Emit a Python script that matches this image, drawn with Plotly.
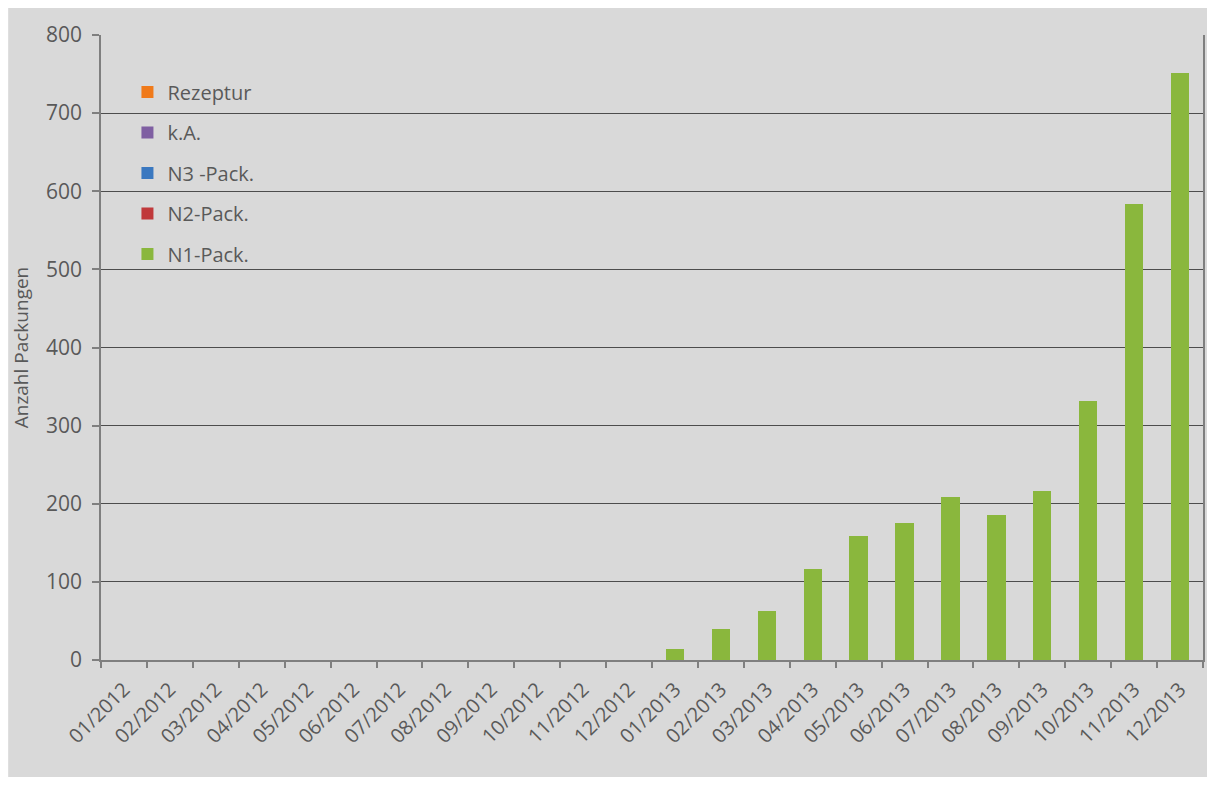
import plotly.graph_objects as go

months = ["01/2012", "02/2012", "03/2012", "04/2012", "05/2012", "06/2012",
          "07/2012", "08/2012", "09/2012", "10/2012", "11/2012", "12/2012",
          "01/2013", "02/2013", "03/2013", "04/2013", "05/2013", "06/2013",
          "07/2013", "08/2013", "09/2013", "10/2013", "11/2013", "12/2013"]

n1_pack = [0, 0, 0, 0, 0, 0, 0, 0, 0, 0, 0, 0,
           14, 40, 63, 117, 159, 175, 209, 185, 216, 332, 584, 752]
n2_pack = [0] * 24
n3_pack = [0] * 24
k_a = [0] * 24
rezeptur = [0] * 24

# legend order (top to bottom); stacking of the non-zero series is unaffected
series = [
    ("Rezeptur", rezeptur, "#f07a1a"),
    ("k.A.", k_a, "#7f5fa2"),
    ("N3 -Pack.", n3_pack, "#3a78c0"),
    ("N2-Pack.", n2_pack, "#c0393b"),
    ("N1-Pack.", n1_pack, "#8ab73d"),
]

y_ticks = [0, 100, 200, 300, 400, 500, 600, 700, 800]

fig = go.Figure()
for name, vals, color in series:
    fig.add_trace(go.Bar(
        x=months, y=vals, name=name, legendgroup=name,
        marker=dict(color=color, line=dict(width=0)),
    ))

OFF = 8  # page body margin
W, H = 1215 - 2 * OFF, 785 - 2 * OFF
L, T = 101 - OFF, 35 - OFF
R = W - (1205 - OFF)
B = H - (660 - OFF)
pw, ph = W - L - R, H - T - B

fig.add_shape(type="rect", xref="paper", yref="paper",
              x0=-L / pw, x1=(1210 - OFF - L) / pw,
              y0=(660 - 780) / ph, y1=(H - B) / ph + 0.05,
              fillcolor="#d9d9d9", line=dict(width=0), layer="below")

font_fam = "Open Sans"
fig.update_layout(
    width=W, height=H,
    margin=dict(l=L, r=R, t=T, b=B),
    paper_bgcolor="white",
    plot_bgcolor="rgba(0,0,0,0)",
    barmode="stack",
    bargap=0.6,
    showlegend=True,
    legend=dict(
        x=0.024, y=0.94, xanchor="left", yanchor="top",
        traceorder="grouped", tracegroupgap=11.5,
        bgcolor="rgba(0,0,0,0)",
        font=dict(family=font_fam, size=20, color="#595959"),
        itemwidth=30,
    ),
    font=dict(family=font_fam, color="#595959"),
    xaxis=dict(
        type="category", tickangle=-45,
        tickson="boundaries", ticks="outside", ticklen=6,
        tickcolor="#7f7f7f", tickwidth=1.5,
        ticklabelstandoff=8,
        showline=True, linecolor="#7f7f7f", linewidth=1.5,
        showgrid=False,
        tickfont=dict(family=font_fam, size=20, color="#595959"),
    ),
    yaxis=dict(
        range=[0, 800], tickvals=y_ticks,
        ticks="outside", ticklen=7, tickcolor="#7f7f7f", tickwidth=1.5,
        ticklabelstandoff=6,
        showline=True, linecolor="#7f7f7f", linewidth=1.5, mirror=True,
        showgrid=True, gridcolor="#4d4d4d", gridwidth=1.4,
        zeroline=False,
        tickfont=dict(family=font_fam, size=21, color="#595959"),
        title=dict(text="Anzahl Packungen", standoff=12,
                   font=dict(family=font_fam, size=19, color="#595959")),
    ),
)

fig.write_html("out.html")
